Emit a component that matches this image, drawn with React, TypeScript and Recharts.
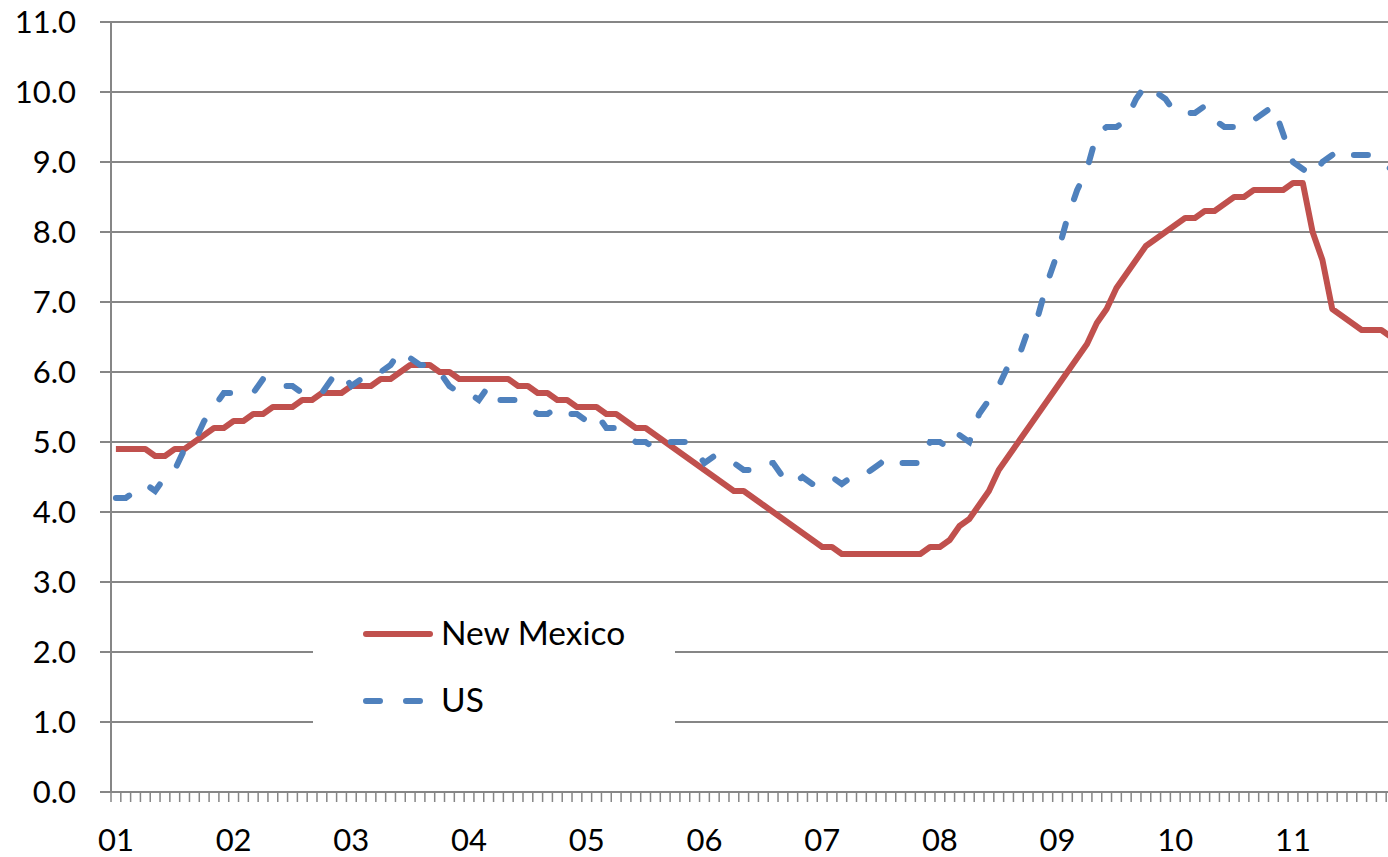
import React from "react";
import { CartesianGrid, Legend, Line, LineChart, XAxis, YAxis } from "recharts";

// monthly unemployment rate, Jan 2001 onward (%)
const yearLabels = ["01", "02", "03", "04", "05", "06", "07", "08", "09", "10", "11"];

const newMexico = [
  4.9, 4.9, 4.9, 4.9, 4.8, 4.8, 4.9, 4.9, 5.0, 5.1, 5.2, 5.2,
  5.3, 5.3, 5.4, 5.4, 5.5, 5.5, 5.5, 5.6, 5.6, 5.7, 5.7, 5.7,
  5.8, 5.8, 5.8, 5.9, 5.9, 6.0, 6.1, 6.1, 6.1, 6.0, 6.0, 5.9,
  5.9, 5.9, 5.9, 5.9, 5.9, 5.8, 5.8, 5.7, 5.7, 5.6, 5.6, 5.5,
  5.5, 5.5, 5.4, 5.4, 5.3, 5.2, 5.2, 5.1, 5.0, 4.9, 4.8, 4.7,
  4.6, 4.5, 4.4, 4.3, 4.3, 4.2, 4.1, 4.0, 3.9, 3.8, 3.7, 3.6,
  3.5, 3.5, 3.4, 3.4, 3.4, 3.4, 3.4, 3.4, 3.4, 3.4, 3.4, 3.5,
  3.5, 3.6, 3.8, 3.9, 4.1, 4.3, 4.6, 4.8, 5.0, 5.2, 5.4, 5.6,
  5.8, 6.0, 6.2, 6.4, 6.7, 6.9, 7.2, 7.4, 7.6, 7.8, 7.9, 8.0,
  8.1, 8.2, 8.2, 8.3, 8.3, 8.4, 8.5, 8.5, 8.6, 8.6, 8.6, 8.6,
  8.7, 8.7, 8.0, 7.6, 6.9, 6.8, 6.7, 6.6, 6.6, 6.6, 6.5,
];

const us = [
  4.2, 4.2, 4.3, 4.4, 4.3, 4.5, 4.6, 4.9, 5.0, 5.3, 5.5, 5.7,
  5.7, 5.7, 5.7, 5.9, 5.8, 5.8, 5.8, 5.7, 5.7, 5.7, 5.9, 6.0,
  5.8, 5.9, 5.9, 6.0, 6.1, 6.3, 6.2, 6.1, 6.1, 6.0, 5.8, 5.7,
  5.7, 5.6, 5.8, 5.6, 5.6, 5.6, 5.5, 5.4, 5.4, 5.5, 5.4, 5.4,
  5.3, 5.4, 5.2, 5.2, 5.1, 5.0, 5.0, 4.9, 5.0, 5.0, 5.0, 4.9,
  4.7, 4.8, 4.7, 4.7, 4.6, 4.6, 4.7, 4.7, 4.5, 4.4, 4.5, 4.4,
  4.5, 4.5, 4.4, 4.5, 4.5, 4.6, 4.7, 4.6, 4.7, 4.7, 4.7, 5.0,
  5.0, 4.9, 5.1, 5.0, 5.4, 5.6, 5.8, 6.1, 6.2, 6.6, 6.8, 7.3,
  7.7, 8.2, 8.6, 8.9, 9.4, 9.5, 9.5, 9.6, 9.9, 10.1, 10.0, 9.9,
  9.7, 9.7, 9.7, 9.8, 9.6, 9.5, 9.5, 9.6, 9.6, 9.7, 9.8, 9.4,
  9.0, 8.9, 8.8, 9.0, 9.1, 9.2, 9.1, 9.1, 9.1, 9.0, 8.9,
];

const yTicks = [0, 1, 2, 3, 4, 5, 6, 7, 8, 9, 10, 11];

const N = newMexico.length;
const data = newMexico.map((v, i) => ({ i, nm: v, us: us[i] }));
// month boundaries, Excel-style "between" tick marks
const boundaries = Array.from({ length: N + 1 }, (_, k) => k - 0.5);

const NM_COLOR = "#C0504D";
const US_COLOR = "#4F81BD";
const GRID = "#868686";
const FONT = "Lato, 'Open Sans', sans-serif";

const CHART_W = 1400;
const Y_W = 111;
const RIGHT = 4;
const BAND = (CHART_W - Y_W - RIGHT) / N;

function MonthTick(props: any) {
  const { x, y, payload } = props;
  const start = payload.value + 0.5;
  const isYear = start % 12 === 0 && start < N;
  return (
    <g>
      <line x1={x} x2={x} y1={y} y2={y + 10} stroke={GRID} strokeWidth={1.5} />
      {isYear && (
        <text x={x + BAND / 2} y={y + 59} textAnchor="middle" fontSize={31} fontFamily={FONT} fill="#000">
          {yearLabels[start / 12]}
        </text>
      )}
    </g>
  );
}

function LegendBox() {
  return (
    <svg width={362} height={145} style={{ display: "block", background: "#fff" }}>
      <line x1={53} x2={117} y1={39} y2={39} stroke={NM_COLOR} strokeWidth={6} strokeLinecap="round" />
      <text x={128} y={50} fontSize={33.5} fontFamily={FONT} fill="#000">New Mexico</text>
      <line x1={53} x2={117} y1={106} y2={106} stroke={US_COLOR} strokeWidth={6} strokeLinecap="round" strokeDasharray="14 26" />
      <text x={128} y={117} fontSize={33.5} fontFamily={FONT} fill="#000">US</text>
    </svg>
  );
}

export default function App() {
  return (
    <div style={{ position: "fixed", left: 0, top: 0, width: 1388, height: 857, overflow: "hidden", background: "#fff" }}>
      <LineChart width={CHART_W} height={857} data={data} margin={{ top: 22, right: RIGHT, left: 0, bottom: 0 }}>
        <CartesianGrid vertical={false} stroke={GRID} strokeWidth={2} />
        <XAxis
          type="number"
          dataKey="i"
          domain={[-0.5, N - 0.5]}
          ticks={boundaries}
          interval={0}
          height={65}
          tickSize={0}
          tickMargin={0}
          tickLine={false}
          axisLine={{ stroke: GRID, strokeWidth: 2 }}
          tick={<MonthTick />}
          allowDataOverflow
        />
        <YAxis
          domain={[0, 11]}
          ticks={yTicks}
          interval={0}
          width={Y_W}
          tickSize={11}
          tickMargin={24}
          tickFormatter={(v: number) => v.toFixed(1)}
          axisLine={{ stroke: GRID, strokeWidth: 2 }}
          tickLine={{ stroke: GRID, strokeWidth: 2 }}
          tick={{ fontSize: 31, fill: "#000", fontFamily: FONT }}
        />
        <Legend
          layout="vertical"
          align="center"
          verticalAlign="middle"
          width={362}
          height={145}
          wrapperStyle={{ left: 313, top: 595, width: 362, height: 145 }}
          content={() => <LegendBox />}
        />
        <Line type="linear" dataKey="nm" stroke={NM_COLOR} strokeWidth={6} dot={false} strokeLinejoin="round" isAnimationActive={false} />
        <Line type="linear" dataKey="us" stroke={US_COLOR} strokeWidth={6} dot={false} strokeLinecap="round" strokeDasharray="14 26" isAnimationActive={false} />
      </LineChart>
    </div>
  );
}
